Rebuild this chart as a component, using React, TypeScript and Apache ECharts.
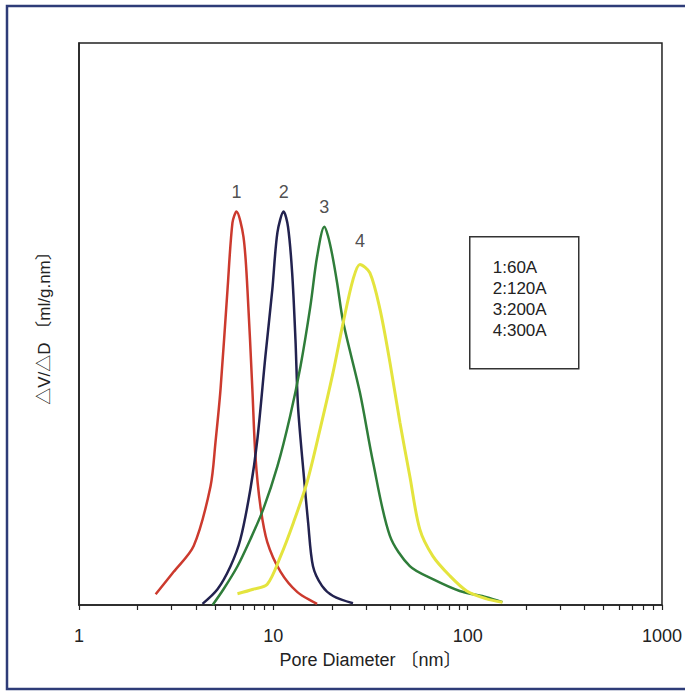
import React, { useEffect, useRef } from "react";
import * as echarts from "echarts";

// Pore diameter (nm) and dV/dD (arbitrary units)
const pore1 = [2.48, 3.07, 3.89, 4.75, 5.04, 5.35, 5.81, 6.16, 6.46, 7.02, 7.36, 7.8, 8.09, 8.58, 9.31, 10.9, 13.3, 16.8];
const dv1 = [1.9, 5.9, 10.5, 21.1, 29.0, 38.4, 56.1, 68.0, 70.0, 65.5, 56.1, 38.4, 26.5, 17.6, 11.2, 5.9, 2.3, 0.2];

const pore2 = [4.32, 5.16, 6.02, 6.77, 7.62, 8.28, 9.1, 9.88, 10.5, 11.3, 11.9, 12.5, 13.0, 13.4, 14.3, 15.1, 16.0, 17.8, 20.3, 25.7];
const dv2 = [0.2, 2.8, 6.9, 11.7, 20.6, 29.5, 44.2, 56.1, 66.3, 70.0, 67.3, 59.1, 47.2, 35.3, 23.6, 14.7, 6.9, 3.4, 1.6, 0.3];

const pore3 = [4.87, 5.54, 6.54, 7.62, 8.89, 10.5, 12.2, 13.8, 15.5, 16.8, 18.3, 19.1, 20.1, 21.3, 22.9, 27.9, 32.6, 39.8, 50.4, 66.2, 91.0, 125, 151];
const dv3 = [0.0, 2.8, 6.9, 11.7, 17.1, 24.7, 33.6, 42.5, 53.1, 62.0, 67.3, 65.7, 62.3, 57.3, 50.3, 37.8, 25.4, 12.3, 6.9, 4.6, 2.5, 1.4, 0.5];

const pore4 = [6.54, 7.89, 9.31, 10.9, 12.7, 14.9, 17.4, 20.3, 22.9, 25.7, 27.9, 31.4, 35.4, 39.8, 44.8, 50.4, 56.7, 66.2, 80.9, 98.9, 125, 151];
const dv4 = [2.0, 2.8, 3.7, 8.7, 14.7, 21.8, 31.3, 41.4, 50.3, 57.9, 60.6, 59.1, 52.6, 43.2, 32.5, 22.9, 13.5, 8.7, 5.2, 2.5, 1.1, 0.5];

const curveNames = ["1", "2", "3", "4"];
const legendLines = ["1:60A", "2:120A", "3:200A", "4:300A"];
const xLabelValues = [1, 10, 100, 1000];
const xTickValues = [1, 2, 3, 4, 5, 6, 7, 8, 9, 10, 20, 30, 40, 50, 60, 70, 80, 90, 100, 200, 300, 400, 500, 600, 700, 800, 900, 1000];

const colors = ["#cc3a2e", "#22224f", "#2f7d3a", "#e4e43e"];

function pairs(xs: number[], ys: number[]) {
  return xs.map((x, i) => [x, ys[i]]);
}

function peakIndex(ys: number[]) {
  let k = 0;
  ys.forEach((v, i) => {
    if (v > ys[k]) k = i;
  });
  return k;
}

export default function App() {
  const ref = useRef<HTMLDivElement>(null);
  useEffect(() => {
    if (!ref.current) return;
    const chart = echarts.init(ref.current, undefined, { renderer: "svg" });
    const all = [
      [pore1, dv1],
      [pore2, dv2],
      [pore3, dv3],
      [pore4, dv4],
    ];
    const font = "Liberation Sans, Arial, Noto Sans CJK JP, sans-serif";
    const series: any[] = all.map(([xs, ys], i) => ({
      type: "line",
      name: curveNames[i],
      data: pairs(xs, ys),
      smooth: 0.3,
      showSymbol: false,
      symbol: "none",
      lineStyle: { color: colors[i], width: i === 3 ? 3 : 2.5 },
      z: 3 + i,
    }));
    series.push({
      type: "scatter",
      name: "peaks",
      symbolSize: 0,
      data: all.map(([xs, ys], i) => {
        const pk = peakIndex(ys);
        return {
          value: [xs[pk], ys[pk]],
          label: {
            show: true,
            formatter: curveNames[i],
            position: "top",
            distance: i === 3 ? 14 : 11,
            fontSize: 18,
            color: "#222",
            fontFamily: font,
          },
        };
      }),
      z: 10,
    });
    chart.setOption({
      animation: false,
      backgroundColor: "#fff",
      grid: { left: 79, right: 23, top: 43, bottom: 86, show: true, borderColor: "#222", borderWidth: 1.5 },
      xAxis: {
        type: "log",
        logBase: 10,
        min: 1,
        max: 1000,
        name: "Pore Diameter 〔nm〕",
        nameLocation: "middle",
        nameGap: 46,
        nameTextStyle: { fontSize: 18, color: "#222", fontFamily: font, letterSpacing: 1 } as any,
        axisLine: { show: true, lineStyle: { color: "#222", width: 1.5 } },
        axisTick: { show: true, inside: false, length: 5, customValues: xTickValues, lineStyle: { color: "#222", width: 1.2 } } as any,
        axisLabel: {
          customValues: xLabelValues,
          margin: 22,
          fontSize: 18,
          color: "#222",
          fontFamily: font,
          formatter: (v: number) => String(Math.round(v)),
        } as any,
        splitLine: { show: false },
        minorTick: { show: false },
      },
      yAxis: {
        type: "value",
        min: 0,
        max: 100,
        name: "△V/△D 〔ml/g.nm〕",
        nameLocation: "middle",
        nameGap: 26,
        nameRotate: 90,
        nameTextStyle: { fontSize: 17, color: "#222", fontFamily: font, letterSpacing: 1 } as any,
        axisLine: { show: true, lineStyle: { color: "#222", width: 1.5 } },
        axisTick: { show: false },
        axisLabel: { show: false },
        splitLine: { show: false },
      },
      series,
      graphic: [
        {
          type: "rect",
          shape: { x: 7, y: 6, width: 684, height: 683 },
          style: { fill: "none", stroke: "#2e3c78", lineWidth: 2.5 },
          silent: true,
        },
        {
          type: "group",
          left: 469,
          top: 236,
          children: [
            {
              type: "rect",
              shape: { x: 0, y: 0, width: 109, height: 132 },
              style: { fill: "#fff", stroke: "#333", lineWidth: 1.5 },
            },
            ...legendLines.map((t, i) => ({
              type: "text",
              x: 23,
              y: 31 + i * 21,
              style: {
                text: t,
                fontSize: 17,
                fill: "#222",
                fontFamily: font,
                verticalAlign: "middle",
              },
            })),
          ],
        },
      ],
    });
    return () => chart.dispose();
  }, []);
  return <div ref={ref} style={{ position: "fixed", left: 0, top: 0, width: 685, height: 691 }} />;
}
